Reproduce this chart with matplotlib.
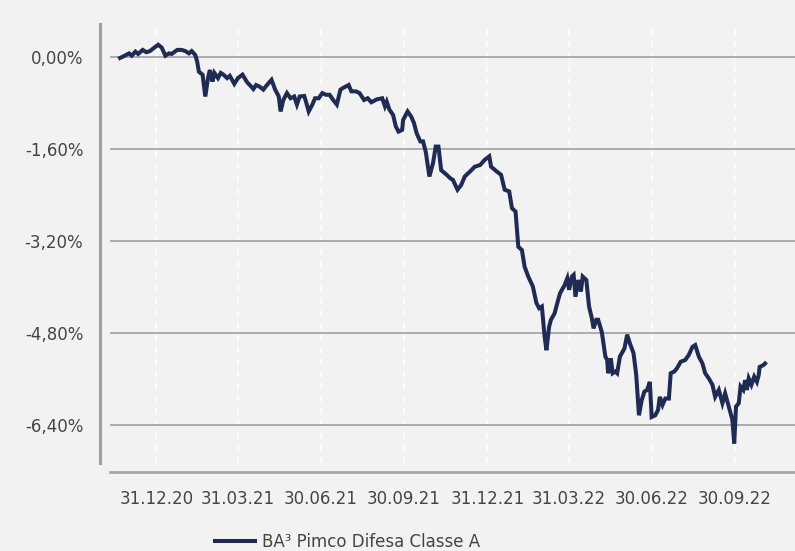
import datetime
import matplotlib
matplotlib.use("Agg")
import matplotlib.pyplot as plt
import matplotlib.dates as mdates
from matplotlib.ticker import FuncFormatter

# Valori (performance cumulata in %)
date_str = [
    "2020-11-21", "2020-11-25", "2020-12-01", "2020-12-04", "2020-12-08", "2020-12-11",
    "2020-12-16", "2020-12-20", "2020-12-24", "2020-12-28", "2021-01-02", "2021-01-06",
    "2021-01-10", "2021-01-14", "2021-01-17", "2021-01-23", "2021-01-28", "2021-02-01",
    "2021-02-05", "2021-02-08", "2021-02-12", "2021-02-14", "2021-02-16", "2021-02-20",
    "2021-02-23", "2021-02-26", "2021-02-28", "2021-03-03", "2021-03-05", "2021-03-09",
    "2021-03-12", "2021-03-15", "2021-03-19", "2021-03-22", "2021-03-27", "2021-03-31",
    "2021-04-05", "2021-04-10", "2021-04-13", "2021-04-17", "2021-04-20", "2021-04-24",
    "2021-04-28", "2021-05-02", "2021-05-07", "2021-05-11", "2021-05-15", "2021-05-17",
    "2021-05-20", "2021-05-24", "2021-05-28", "2021-06-01", "2021-06-04", "2021-06-07",
    "2021-06-12", "2021-06-14", "2021-06-17", "2021-06-21", "2021-06-24", "2021-06-28",
    "2021-07-02", "2021-07-06", "2021-07-10", "2021-07-14", "2021-07-18", "2021-07-22",
    "2021-07-25", "2021-07-31", "2021-08-03", "2021-08-08", "2021-08-12", "2021-08-17",
    "2021-08-21", "2021-08-25", "2021-08-31", "2021-09-06", "2021-09-09", "2021-09-11",
    "2021-09-14", "2021-09-18", "2021-09-21", "2021-09-24", "2021-09-28", "2021-09-29",
    "2021-10-04", "2021-10-08", "2021-10-11", "2021-10-14", "2021-10-18", "2021-10-21",
    "2021-10-24", "2021-10-28", "2021-11-01", "2021-11-04", "2021-11-07", "2021-11-10",
    "2021-11-16", "2021-11-20", "2021-11-23", "2021-11-28", "2021-12-02", "2021-12-06",
    "2021-12-12", "2021-12-17", "2021-12-23", "2021-12-28", "2022-01-02", "2022-01-04",
    "2022-01-10", "2022-01-15", "2022-01-19", "2022-01-24", "2022-01-27", "2022-01-31",
    "2022-02-03", "2022-02-07", "2022-02-10", "2022-02-14", "2022-02-19", "2022-02-23",
    "2022-02-26", "2022-03-01", "2022-03-04", "2022-03-06", "2022-03-09", "2022-03-11",
    "2022-03-15", "2022-03-18", "2022-03-21", "2022-03-26", "2022-03-29", "2022-03-31",
    "2022-04-03", "2022-04-05", "2022-04-07", "2022-04-10", "2022-04-13", "2022-04-15",
    "2022-04-19", "2022-04-22", "2022-04-25", "2022-04-27", "2022-04-30", "2022-05-02",
    "2022-05-06", "2022-05-10", "2022-05-12", "2022-05-13", "2022-05-16", "2022-05-18",
    "2022-05-21", "2022-05-23", "2022-05-26", "2022-05-31", "2022-06-03", "2022-06-06",
    "2022-06-10", "2022-06-13", "2022-06-16", "2022-06-19", "2022-06-22", "2022-06-25",
    "2022-06-28", "2022-06-30", "2022-07-04", "2022-07-07", "2022-07-09", "2022-07-12",
    "2022-07-15", "2022-07-19", "2022-07-21", "2022-07-25", "2022-07-28", "2022-08-01",
    "2022-08-06", "2022-08-10", "2022-08-14", "2022-08-17", "2022-08-21", "2022-08-25",
    "2022-08-28", "2022-09-01", "2022-09-05", "2022-09-08", "2022-09-12", "2022-09-16",
    "2022-09-19", "2022-09-23", "2022-09-27", "2022-09-29", "2022-10-01", "2022-10-04",
    "2022-10-06", "2022-10-09", "2022-10-11", "2022-10-13", "2022-10-15", "2022-10-18",
    "2022-10-21", "2022-10-24", "2022-10-26", "2022-10-27", "2022-10-31", "2022-11-02",
]
performance = [
    -0.02, 0.01, 0.06, 0.02, 0.09, 0.05,
    0.12, 0.08, 0.10, 0.15, 0.21, 0.16,
    0.02, 0.06, 0.05, 0.12, 0.12, 0.10,
    0.06, 0.10, 0.03, -0.08, -0.26, -0.31,
    -0.69, -0.37, -0.23, -0.43, -0.28, -0.37,
    -0.28, -0.31, -0.37, -0.33, -0.47, -0.37,
    -0.31, -0.44, -0.49, -0.56, -0.49, -0.52,
    -0.57, -0.49, -0.40, -0.57, -0.69, -0.95,
    -0.75, -0.63, -0.72, -0.69, -0.83, -0.69,
    -0.68, -0.78, -0.95, -0.83, -0.72, -0.72,
    -0.63, -0.66, -0.66, -0.75, -0.83, -0.57,
    -0.54, -0.49, -0.60, -0.60, -0.63, -0.75,
    -0.72, -0.79, -0.74, -0.72, -0.86, -0.78,
    -0.92, -1.01, -1.21, -1.30, -1.27, -1.10,
    -0.95, -1.04, -1.15, -1.33, -1.47, -1.47,
    -1.65, -2.08, -1.85, -1.56, -1.56, -1.97,
    -2.05, -2.11, -2.14, -2.31, -2.23, -2.08,
    -1.99, -1.91, -1.88, -1.79, -1.73, -1.91,
    -1.99, -2.05, -2.31, -2.34, -2.63, -2.69,
    -3.30, -3.36, -3.65, -3.82, -3.99, -4.28,
    -4.37, -4.34, -4.86, -5.10, -4.69, -4.57,
    -4.46, -4.28, -4.11, -3.97, -3.85, -4.05,
    -3.82, -3.79, -4.17, -3.88, -4.08, -3.82,
    -3.88, -4.34, -4.54, -4.72, -4.57, -4.57,
    -4.78, -5.21, -5.27, -5.50, -5.24, -5.50,
    -5.47, -5.50, -5.21, -5.07, -4.83, -4.98,
    -5.15, -5.53, -6.23, -5.97, -5.82, -5.79,
    -5.65, -6.26, -6.23, -6.14, -5.91, -6.05,
    -5.94, -5.94, -5.50, -5.47, -5.41, -5.30,
    -5.27, -5.18, -5.04, -5.01, -5.21, -5.33,
    -5.50, -5.59, -5.70, -5.91, -5.79, -6.02,
    -5.85, -6.08, -6.31, -6.72, -6.08, -6.02,
    -5.73, -5.79, -5.62, -5.79, -5.59, -5.70,
    -5.56, -5.65, -5.53, -5.39, -5.36, -5.33,
]
tick_date_str = ["2020-12-31", "2021-03-31", "2021-06-30", "2021-09-30",
                 "2021-12-31", "2022-03-31", "2022-06-30", "2022-09-30"]
y_ticks = [0.0, -1.6, -3.2, -4.8, -6.4]
nome_serie = "BA³ Pimco Difesa Classe A"

date = [datetime.datetime.strptime(d, "%Y-%m-%d") for d in date_str]
tick_date = [datetime.datetime.strptime(d, "%Y-%m-%d") for d in tick_date_str]

sfondo = "#f2f2f2"
testo = "#454545"
plt.rcParams["font.family"] = ["DejaVu Sans"]

fig = plt.figure(figsize=(7.95, 5.51), dpi=100, facecolor=sfondo)
ax = fig.add_axes([0.1384, 0.1597, 0.8616, 0.7967])
ax.set_facecolor(sfondo)

linea, = ax.plot(date, performance, color="#1f2b52", linewidth=2.9,
                 solid_joinstyle="miter", zorder=3)

ax.set_xlim(datetime.datetime(2020, 11, 10), datetime.datetime(2022, 12, 5))
ax.set_ylim(-7.06, 0.57)

ax.set_yticks(y_ticks)
ax.yaxis.set_major_formatter(FuncFormatter(lambda v, p: f"{v:.2f}%".replace(".", ",")))
ax.set_xticks(tick_date)
ax.xaxis.set_major_formatter(mdates.DateFormatter("%d.%m.%y"))

ax.tick_params(axis="both", length=0, labelsize=12, labelcolor=testo)
ax.tick_params(axis="y", pad=12)
ax.tick_params(axis="x", pad=13)

# griglia orizzontale grigia, verticale tratteggiata bianca
ax.grid(axis="y", color="#a6a6a6", linewidth=1.3, zorder=1)
ax.grid(axis="x", color="white", linewidth=1.1, linestyle=(0, (4, 4)), zorder=1)

for lato in ["top", "right"]:
    ax.spines[lato].set_visible(False)
ax.spines["left"].set_position(("outward", 7.2))
ax.spines["left"].set_color("#a0a0a0")
ax.spines["left"].set_linewidth(2.2)
ax.spines["bottom"].set_position(("outward", 6.5))
ax.spines["bottom"].set_color("#a6a6a6")
ax.spines["bottom"].set_linewidth(2.0)

fig.legend([linea], [nome_serie], loc="center left",
           bbox_to_anchor=(215 / 795, 1 - 542 / 551), frameon=False,
           fontsize=12, labelcolor=testo, handlelength=2.4,
           handletextpad=0.45, borderpad=0, borderaxespad=0)

fig.savefig("out.png", dpi=100, facecolor=sfondo)
